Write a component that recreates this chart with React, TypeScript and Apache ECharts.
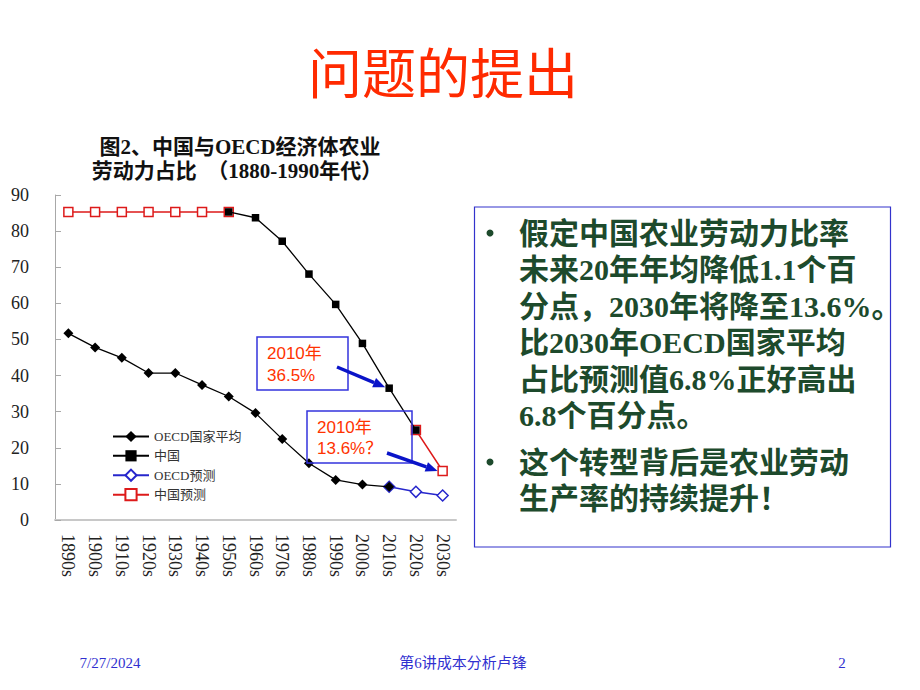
import React, { useEffect, useRef } from "react";
import * as echarts from "echarts";

const decades = ["1890s", "1900s", "1910s", "1920s", "1930s", "1940s", "1950s", "1960s", "1970s", "1980s", "1990s", "2000s", "2010s", "2020s", "2030s"];
const oecdAvg = [51.7, 47.8, 44.9, 40.7, 40.7, 37.4, 34.2, 29.6, 22.4, 15.7, 11.1, 9.8, 9.2, null, null];
const china = [null, null, null, null, null, null, 85.3, 83.7, 77.2, 68.1, 59.7, 48.9, 36.5, 24.9, null];
const oecdForecast = [null, null, null, null, null, null, null, null, null, null, null, null, 9.2, 7.8, 6.8];
const chinaForecast = [85.3, 85.3, 85.3, 85.3, 85.3, 85.3, 85.3, null, null, null, null, null, null, 24.9, 13.6];
const seriesNames = ["OECD国家平均", "中国", "OECD预测", "中国预测"];

const pageTitle = "问题的提出";
const chartTitle1 = "图2、中国与OECD经济体农业";
const chartTitle2 = "劳动力占比  （1880-1990年代）";
const note1 = ["2010年", "36.5%"];
const note2 = ["2010年", "13.6%？"];
const bulletLines1 = [
  "假定中国农业劳动力比率",
  "未来20年年均降低1.1个百",
  "分点，2030年将降至13.6%。",
  "比2030年OECD国家平均",
  "占比预测值6.8%正好高出",
  "6.8个百分点。",
];
const bulletLines2 = ["这个转型背后是农业劳动", "生产率的持续提升！"];
const footer = ["7/27/2024", "第6讲成本分析卢锋", "2"];

const SERIF = "'Liberation Serif', 'Noto Sans CJK SC', serif";
const SANS = "'Liberation Sans', 'Noto Sans CJK SC', sans-serif";

function arrow(x1: number, y1: number, x2: number, y2: number, color: string) {
  const dx = x2 - x1;
  const dy = y2 - y1;
  const len = Math.sqrt(dx * dx + dy * dy);
  const ux = dx / len;
  const uy = dy / len;
  const hl = 12;
  const hw = 5;
  const bx = x2 - ux * hl;
  const by = y2 - uy * hl;
  return [
    { type: "line", z: 20, shape: { x1, y1, x2: bx, y2: by }, style: { stroke: color, lineWidth: 3.5 } },
    {
      type: "polygon",
      z: 20,
      shape: { points: [[x2, y2], [bx - uy * hw, by + ux * hw], [bx + uy * hw, by - ux * hw]] },
      style: { fill: color },
    },
  ];
}

export default function App() {
  const ref = useRef<HTMLDivElement>(null);
  useEffect(() => {
    if (!ref.current) return;
    const chart = echarts.init(ref.current, undefined, { renderer: "svg" });
    const option: any = {
      animation: false,
      backgroundColor: "#ffffff",
      grid: { left: 55, right: 464, top: 195, bottom: 170, containLabel: false },
      legend: {
        orient: "vertical",
        left: 107,
        top: 425,
        itemWidth: 36,
        itemHeight: 14,
        itemGap: 6.3,
        data: seriesNames,
        textStyle: { fontFamily: SERIF, fontSize: 13, color: "#333" },
      },
      xAxis: {
        type: "category",
        data: decades,
        boundaryGap: true,
        axisLine: { lineStyle: { color: "#c8c8c8", width: 2 } },
        axisTick: { show: false },
        axisLabel: { rotate: -90, margin: 14, fontFamily: SERIF, fontSize: 18, color: "#222", interval: 0 },
        splitLine: { show: false },
      },
      yAxis: {
        type: "value",
        min: 0,
        max: 90,
        interval: 10,
        axisLine: { show: true, lineStyle: { color: "#a8a8a8", width: 1 } },
        axisTick: { show: true, inside: true, length: 6, lineStyle: { color: "#a8a8a8" } },
        axisLabel: { margin: 26, fontFamily: SERIF, fontSize: 18, color: "#222" },
        splitLine: { show: false },
      },
      series: [
        {
          name: seriesNames[0],
          type: "line",
          data: oecdAvg,
          z: 4,
          symbol: "diamond",
          symbolSize: 10,
          lineStyle: { color: "#000", width: 1.3 },
          itemStyle: { color: "#000" },
        },
        {
          name: seriesNames[1],
          type: "line",
          data: china,
          z: 4,
          symbol: "rect",
          symbolSize: 7.5,
          lineStyle: { color: "#000", width: 1.3 },
          itemStyle: { color: "#000" },
        },
        {
          name: seriesNames[2],
          type: "line",
          data: oecdForecast,
          z: 3,
          symbol: "diamond",
          symbolSize: 11,
          lineStyle: { color: "#2626cc", width: 1.5 },
          itemStyle: { color: "#ffffff", borderColor: "#2626cc", borderWidth: 1.5 },
        },
        {
          name: seriesNames[3],
          type: "line",
          data: chinaForecast,
          z: 3,
          symbol: "rect",
          symbolSize: 9,
          lineStyle: { color: "#dd1a1a", width: 1.6 },
          itemStyle: { color: "#ffffff", borderColor: "#dd1a1a", borderWidth: 1.5 },
        },
      ],
    };
    chart.setOption(option);

    const tip1 = chart.convertToPixel({ xAxisIndex: 0, yAxisIndex: 0 }, ["2010s", china[12]]) as number[];
    const tip2 = chart.convertToPixel({ xAxisIndex: 0, yAxisIndex: 0 }, ["2030s", chinaForecast[14]]) as number[];

    const bulletGraphics: any[] = [];
    const startY1 = 233;
    bulletLines1.forEach((t, i) => {
      bulletGraphics.push({
        type: "text",
        left: 519,
        top: startY1 + i * 36.5 - 18,
        style: { text: t, fontFamily: SERIF, fontSize: 30, fontWeight: "bold", fill: "#1d4a2c", lineHeight: 36 },
      });
    });
    const startY2 = 462;
    bulletLines2.forEach((t, i) => {
      bulletGraphics.push({
        type: "text",
        left: 519,
        top: startY2 + i * 36 - 18,
        style: { text: t, fontFamily: SERIF, fontSize: 30, fontWeight: "bold", fill: "#1d4a2c", lineHeight: 36 },
      });
    });
    [startY1, startY2].forEach((y) => {
      bulletGraphics.push({
        type: "circle",
        shape: { cx: 490, cy: y, r: 3.5 },
        style: { fill: "#1d4a2c" },
      });
    });

    chart.setOption({
      graphic: [
        {
          type: "text",
          x: 443,
          y: 70,
          style: { text: pageTitle, fontFamily: "'Noto Sans CJK SC', sans-serif", fontSize: 54, fill: "#ff2a00", align: "center", verticalAlign: "middle" },
        },
        {
          type: "text",
          x: 240,
          y: 147,
          style: { text: chartTitle1, fontFamily: SERIF, fontSize: 21, fontWeight: "bold", fill: "#111", align: "center", verticalAlign: "middle" },
        },
        {
          type: "text",
          x: 237,
          y: 171,
          style: { text: chartTitle2, fontFamily: SERIF, fontSize: 21, fontWeight: "bold", fill: "#111", align: "center", verticalAlign: "middle" },
        },
        {
          type: "rect",
          z: 15,
          shape: { x: 257, y: 337, width: 91, height: 53 },
          style: { fill: "none", stroke: "#3333dd", lineWidth: 1.5 },
        },
        {
          type: "text",
          z: 16,
          x: 267,
          y: 353,
          style: { text: note1[0], fontFamily: SANS, fontSize: 17, fill: "#ff3300", verticalAlign: "middle" },
        },
        {
          type: "text",
          z: 16,
          x: 267,
          y: 375,
          style: { text: note1[1], fontFamily: SANS, fontSize: 17, fill: "#ff3300", verticalAlign: "middle" },
        },
        {
          type: "rect",
          z: 15,
          shape: { x: 307, y: 411, width: 105, height: 52 },
          style: { fill: "none", stroke: "#3333dd", lineWidth: 1.5 },
        },
        {
          type: "text",
          z: 16,
          x: 317,
          y: 427,
          style: { text: note2[0], fontFamily: SANS, fontSize: 17, fill: "#ff3300", verticalAlign: "middle" },
        },
        {
          type: "text",
          z: 16,
          x: 317,
          y: 448,
          style: { text: note2[1], fontFamily: SANS, fontSize: 17, fill: "#ff3300", verticalAlign: "middle" },
        },
        ...arrow(337, 367, tip1[0] - 4, tip1[1] - 1, "#0a14c8"),
        ...arrow(387, 453, tip2[0] - 5, tip2[1], "#0a14c8"),
        {
          type: "rect",
          shape: { x: 474.5, y: 207, width: 416, height: 340 },
          style: { fill: "none", stroke: "#3333cc", lineWidth: 1.2 },
        },
        ...bulletGraphics,
        {
          type: "text",
          x: 110,
          y: 663,
          style: { text: footer[0], fontFamily: SERIF, fontSize: 15, fill: "#3030d0", align: "center", verticalAlign: "middle" },
        },
        {
          type: "text",
          x: 463,
          y: 663,
          style: { text: footer[1], fontFamily: SERIF, fontSize: 15, fill: "#3030d0", align: "center", verticalAlign: "middle" },
        },
        {
          type: "text",
          x: 842,
          y: 663,
          style: { text: footer[2], fontFamily: SERIF, fontSize: 15, fill: "#3030d0", align: "center", verticalAlign: "middle" },
        },
      ],
    });

    return () => chart.dispose();
  }, []);

  return (
    <div
      ref={ref}
      style={{ position: "absolute", left: 0, top: 0, width: 920, height: 690, background: "#fff" }}
    />
  );
}
